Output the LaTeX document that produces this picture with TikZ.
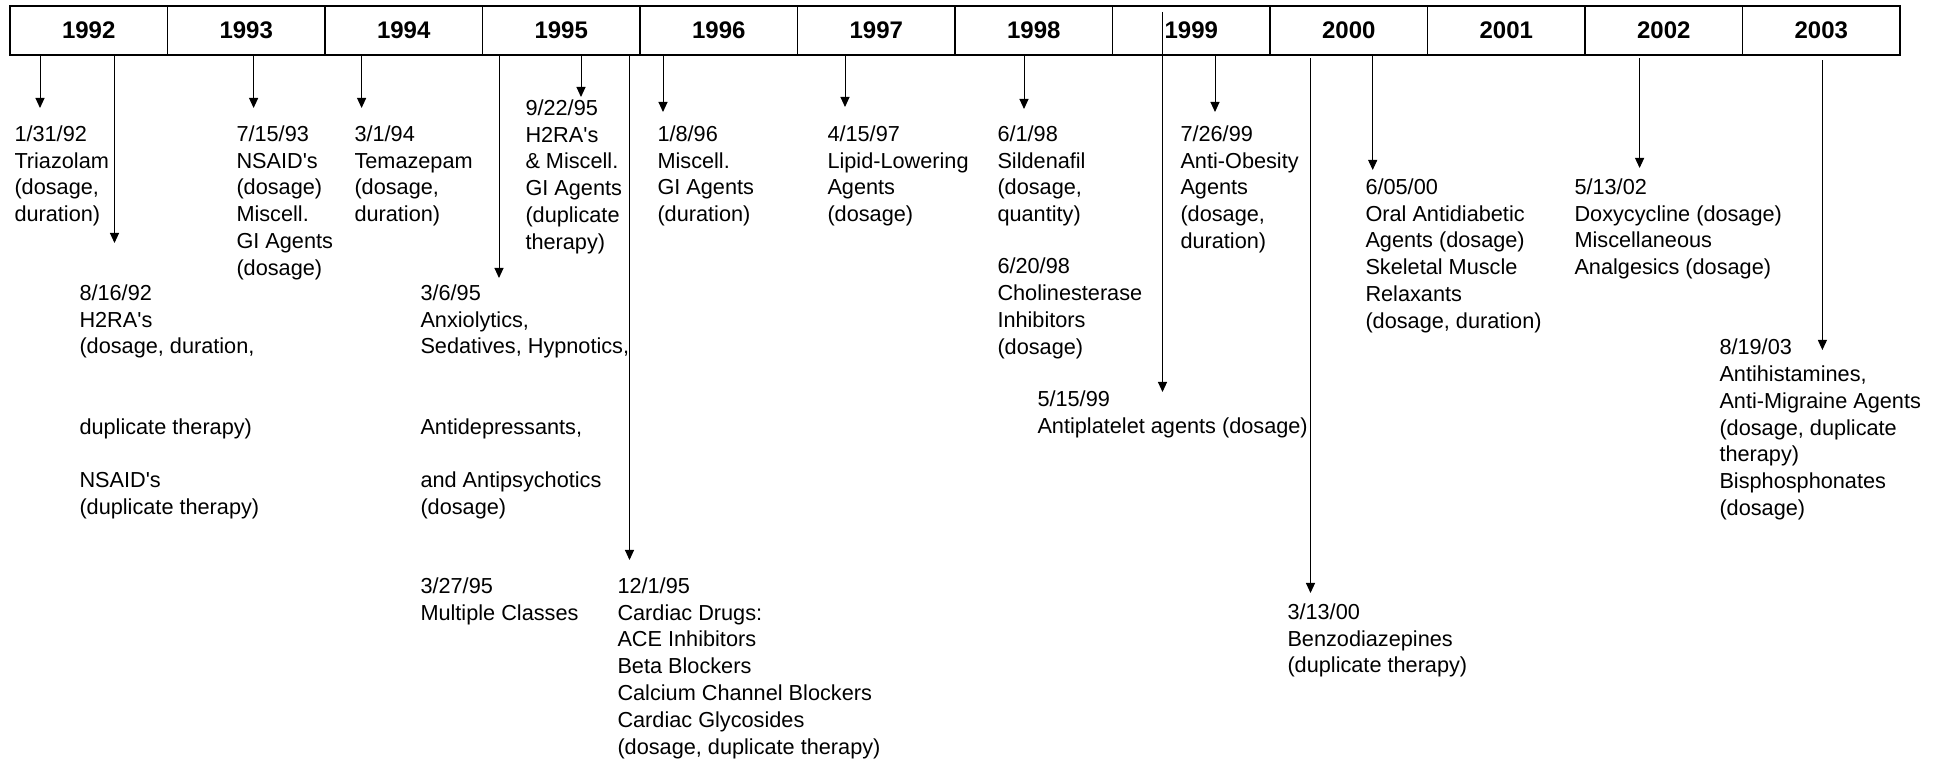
\documentclass[tikz,border=0pt]{standalone}
\usepackage{fontspec}
\setmainfont{Liberation Sans}
\usetikzlibrary{arrows.meta}

\newcommand{\evfont}{\fontsize{10.85pt}{13.4pt}\selectfont}
\newcommand{\yrfont}{\fontsize{12pt}{14pt}\selectfont\bfseries}
\newcommand{\ap}{\textquotesingle}

\tikzset{every picture/.style={line width=0.5pt}}
\tikzset{
  yearcell/.style={draw, line width=0.65pt, minimum width=78.75pt, minimum height=24.5pt,
    inner sep=0pt, outer sep=0pt, font=\yrfont},
  evtext/.style={anchor=north west, align=left, inner sep=0pt, font=\evfont,
    execute at begin node=\strut},
  evarrow/.style={-{Triangle[width=4.5pt,length=5pt]}}
}

\begin{document}
\begin{tikzpicture}[x=0.5pt,y=0.5pt,yscale=-1,xscale=1]
    \path[use as bounding box] (0,0) rectangle (1944,763);
    % Year cells
    \foreach \yr [count=\i from 0] in {1992,...,2003}
      \node[yearcell] (y\yr) at ({88.75+157.5*\i},30.6) {\yr};
    \draw[line width=0.9pt] (y1992.north west) rectangle (y2003.south east);
    % Text Node
    \node[evtext] (e920131) at (14,125) {1/31/92\\Triazolam\\(dosage,\\duration)};
    % Text Node
    \node[evtext] (e920816) at (79,284) {8/16/92\\H2RA\ap s\\(dosage, duration,\\\mbox{}\\\mbox{}\\duplicate therapy)\\\mbox{}\\NSAID\ap s\\(duplicate therapy)};
    % Text Node
    \node[evtext] (e930715) at (236,125) {7/15/93\\NSAID\ap s\\(dosage)\\Miscell.\\GI Agents\\(dosage)};
    % Text Node
    \node[evtext] (e940301) at (354,125) {3/1/94\\Temazepam\\(dosage,\\duration)};
    % Text Node
    \node[evtext] (e950306) at (420,284) {3/6/95\\Anxiolytics,\\Sedatives, Hypnotics,\\\mbox{}\\\mbox{}\\Antidepressants,\\\mbox{}\\and Antipsychotics\\(dosage)};
    % Text Node
    \node[evtext] (e950327) at (420,577) {3/27/95\\Multiple Classes};
    % Text Node
    \node[evtext] (e950922) at (525,99) {9/22/95\\H2RA\ap s\\\& Miscell.\\GI Agents\\(duplicate\\therapy)};
    % Text Node
    \node[evtext] (e951201) at (617,577) {12/1/95\\Cardiac Drugs:\\ACE Inhibitors\\Beta Blockers\\Calcium Channel Blockers\\Cardiac Glycosides\\(dosage, duplicate therapy)};
    % Text Node
    \node[evtext] (e960108) at (657,125) {1/8/96\\Miscell.\\GI Agents\\(duration)};
    % Text Node
    \node[evtext] (e970415) at (827,125) {4/15/97\\Lipid-Lowering\\Agents\\(dosage)};
    % Text Node
    \node[evtext] (e980601) at (997,125) {6/1/98\\Sildenafil\\(dosage,\\quantity)};
    % Text Node
    \node[evtext] (e980620) at (997,257.5) {6/20/98\\Cholinesterase\\Inhibitors\\(dosage)};
    % Text Node
    \node[evtext] (e990515) at (1037,390.5) {5/15/99\\Antiplatelet agents (dosage)};
    % Text Node
    \node[evtext] (e990726) at (1180,125) {7/26/99\\Anti-Obesity\\Agents\\(dosage,\\duration)};
    % Text Node
    \node[evtext] (e000313) at (1287,603) {3/13/00\\Benzodiazepines\\(duplicate therapy)};
    % Text Node
    \node[evtext] (e000605) at (1365,178) {6/05/00\\Oral Antidiabetic\\Agents (dosage)\\Skeletal Muscle\\Relaxants\\(dosage, duration)};
    % Text Node
    \node[evtext] (e020513) at (1574,178) {5/13/02\\Doxycycline (dosage)\\Miscellaneous\\Analgesics (dosage)};
    % Text Node
    \node[evtext] (e030819) at (1719,338.5) {8/19/03\\Antihistamines,\\Anti-Migraine Agents\\(dosage, duplicate\\therapy)\\Bisphosphonates\\(dosage)};
    % Arrow tips
    \coordinate (t920131) at (40,108);
    \coordinate (t920816) at (114.5,243);
    \coordinate (t930715) at (253.6,108);
    \coordinate (t940301) at (361.6,108);
    \coordinate (t950306) at (499,278);
    \coordinate (t950922) at (581,97);
    \coordinate (t951201) at (629.5,560);
    \coordinate (t960108) at (663,112);
    \coordinate (t970415) at (845,107);
    \coordinate (t980601) at (1024,109);
    \coordinate (t990515) at (1162.5,392);
    \coordinate (t990726) at (1215,112);
    \coordinate (t000313) at (1310.5,593);
    \coordinate (t000605) at (1372.7,170);
    \coordinate (t020513) at (1639.6,168);
    \coordinate (t030819) at (1822.4,350);
    %Straight Lines
    \draw[evarrow] (y1992.south -| t920131) -- (t920131);
    \draw[evarrow] (y1992.south -| t920816) -- (t920816);
    \draw[evarrow] (y1993.south -| t930715) -- (t930715);
    \draw[evarrow] (y1994.south -| t940301) -- (t940301);
    \draw[evarrow] (y1995.south -| t950306) -- (t950306);
    \draw[evarrow] (y1995.south -| t950922) -- (t950922);
    \draw[evarrow] (y1995.south -| t951201) -- (t951201);
    \draw[evarrow] (y1996.south -| t960108) -- (t960108);
    \draw[evarrow] (y1997.south -| t970415) -- (t970415);
    \draw[evarrow] (y1998.south -| t980601) -- (t980601);
    \draw[evarrow, shorten <=2.9pt] (y1999.north -| t990515) -- (t990515);
    \draw[evarrow] (y1999.south -| t990726) -- (t990726);
    \draw[evarrow, shorten <=1.5pt] (y2000.south -| t000313) -- (t000313);
    \draw[evarrow] (y2000.south -| t000605) -- (t000605);
    \draw[evarrow, shorten <=1.5pt] (y2002.south -| t020513) -- (t020513);
    \draw[evarrow, shorten <=2.5pt] (y2003.south -| t030819) -- (t030819);
\end{tikzpicture}
\end{document}
